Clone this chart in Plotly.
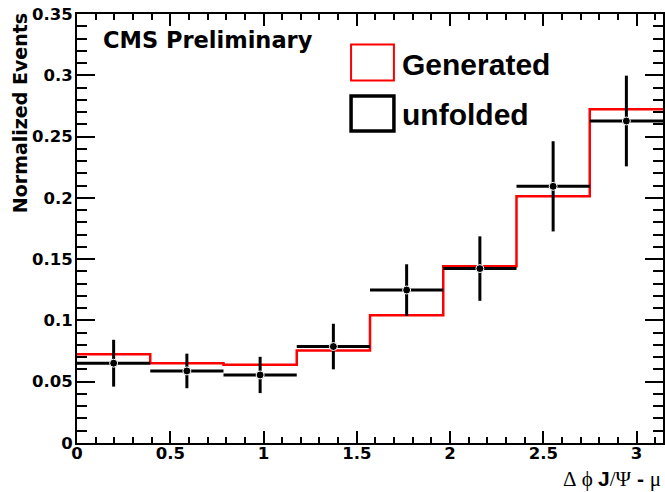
import numpy as np
import plotly.graph_objects as go

# ---- data ----
n_bins = 8
bin_edges = [k * np.pi / 8 for k in range(n_bins + 1)]
generated = [0.0724, 0.0651, 0.0639, 0.0754, 0.1042, 0.1442, 0.2013, 0.2722]
unfolded = [0.0651, 0.0588, 0.0555, 0.0787, 0.1248, 0.1423, 0.2094, 0.2627]
unfolded_err = [0.0191, 0.0141, 0.0148, 0.0186, 0.0210, 0.0263, 0.0368, 0.0370]
x_ticks = [0, 0.5, 1, 1.5, 2, 2.5, 3]
y_ticks = [0, 0.05, 0.1, 0.15, 0.2, 0.25, 0.3, 0.35]
legend_labels = ["Generated", "unfolded"]

centers = [(bin_edges[i] + bin_edges[i + 1]) / 2 for i in range(n_bins)]
halfw = [(bin_edges[i + 1] - bin_edges[i]) / 2 for i in range(n_bins)]

FONT = "Liberation Sans, Arial, Helvetica, sans-serif"
WIDE = "DejaVu Sans, Liberation Sans, sans-serif"

fig = go.Figure()
fig.add_trace(go.Scatter(
    x=bin_edges, y=generated + [generated[-1]],
    mode="lines", line=dict(color="#ff0000", width=2.5, shape="hv"),
    showlegend=False, hoverinfo="skip"))
fig.add_trace(go.Scatter(
    x=centers, y=unfolded, mode="markers",
    marker=dict(color="black", size=8, symbol="circle",
                line=dict(color="white", width=1)),
    error_x=dict(type="data", array=halfw, width=0, thickness=3, color="black"),
    error_y=dict(type="data", array=unfolded_err, width=0, thickness=3, color="black"),
    showlegend=False))

L, T, R, B = 77, 14, 0, 49
W, H = 665, 492
pw, ph = W - L - R, H - T - B

def px(xp):
    return (xp - L) / pw

def py(yp):
    return (H - B - yp) / ph

axis_common = dict(
    showgrid=False, zeroline=False, showline=True, linecolor="black", linewidth=2,
    ticks="inside", mirror="allticks", tickcolor="black", tickwidth=2,
    tickfont=dict(family=WIDE, size=16.5, color="black", weight="bold"),
)

fig.update_xaxes(range=[0, np.pi], tickvals=x_ticks,
                 ticktext=[("<b>%g</b>" % v) for v in x_ticks], ticklen=12,
                 ticklabelstandoff=-6,
                 minor=dict(dtick=0.1, tick0=0, ticklen=6, tickwidth=2,
                            tickcolor="black", ticks="inside", showgrid=False),
                 **axis_common)
fig.update_yaxes(range=[0, 0.35], tickvals=y_ticks,
                 ticktext=[("<b>%g</b>" % v) for v in y_ticks], ticklen=18,
                 ticklabelstandoff=-1,
                 minor=dict(dtick=0.01, tick0=0, ticklen=10, tickwidth=2,
                            tickcolor="black", ticks="inside", showgrid=False),
                 **axis_common)

SP = '<span style="font-family:Liberation Serif;font-weight:normal">%s</span>'
NB = "\u00a0"
annotations = [
    dict(text="<b>Normalized Events</b>", x=px(20), y=py(11), xref="paper", yref="paper",
         textangle=-90, xanchor="center", yanchor="top", showarrow=False,
         font=dict(family=WIDE, size=19, color="black")),
    dict(text="<b>CMS Preliminary</b>", x=px(101), y=py(40), xref="paper", yref="paper",
         xanchor="left", yanchor="middle", showarrow=False,
         font=dict(family=WIDE, size=22.5, color="black")),
    dict(text="<b>" + legend_labels[0] + "</b>", x=px(401), y=py(64), xref="paper", yref="paper",
         xanchor="left", yanchor="middle", showarrow=False,
         font=dict(family=FONT, size=30, color="black")),
    dict(text="<b>" + legend_labels[1] + "</b>", x=px(401), y=py(114), xref="paper", yref="paper",
         xanchor="left", yanchor="middle", showarrow=False,
         font=dict(family=FONT, size=30, color="black")),
    dict(text=(SP % ("\u0394" + NB + "\u03d5" + NB)) + "<b>J</b>" + (SP % "/\u03a8")
              + "<b>" + NB + "-" + NB + "</b>" + (SP % "\u03bc"),
         x=1.0, y=py(479), xref="paper", yref="paper", xanchor="right", yanchor="middle",
         showarrow=False, font=dict(family=FONT, size=21, color="black")),
]

shapes = [
    dict(type="rect", xref="paper", yref="paper", x0=px(352), x1=px(395), y0=py(80.5), y1=py(44.5),
         line=dict(color="#ff0000", width=2), fillcolor="rgba(0,0,0,0)"),
    dict(type="rect", xref="paper", yref="paper", x0=px(352), x1=px(395), y0=py(131), y1=py(96),
         line=dict(color="black", width=3.5), fillcolor="rgba(0,0,0,0)"),
]

fig.update_layout(
    width=W, height=H, margin=dict(l=L, r=R, t=T, b=B),
    paper_bgcolor="white", plot_bgcolor="white",
    annotations=annotations, shapes=shapes, showlegend=False,
)
fig.write_html("out.html")
